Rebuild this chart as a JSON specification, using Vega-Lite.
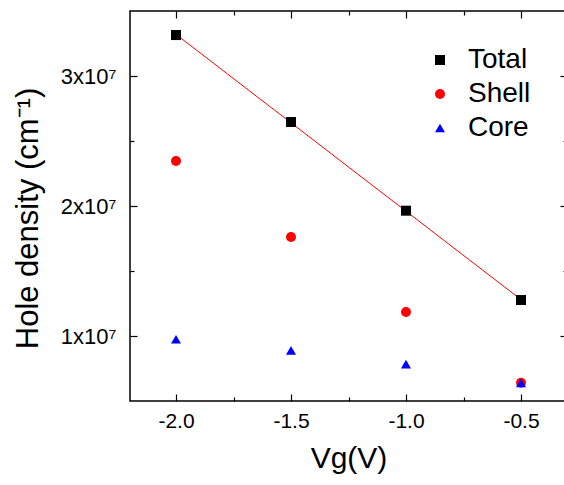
{
  "$schema": "https://vega.github.io/schema/vega-lite/v6.json",
  "width": 437,
  "height": 390,
  "autosize": "none",
  "padding": {"left": 130, "top": 11, "right": 0, "bottom": 84},
  "background": "white",
  "config": {
    "font": "Liberation Sans",
    "view": {"stroke": "black", "strokeWidth": 1.5},
    "axis": {"grid": false, "domain": false, "tickColor": "black", "tickWidth": 1.2, "labelColor": "black", "titleColor": "black"}
  },
  "datasets": {
    "pts": [
      {"Vg": -2.0, "density": 33150000, "series": "Total"},
      {"Vg": -1.5, "density": 26460000, "series": "Total"},
      {"Vg": -1.0, "density": 19640000, "series": "Total"},
      {"Vg": -0.5, "density": 12770000, "series": "Total"},
      {"Vg": -2.0, "density": 23460000, "series": "Shell"},
      {"Vg": -1.5, "density": 17620000, "series": "Shell"},
      {"Vg": -1.0, "density": 11850000, "series": "Shell"},
      {"Vg": -0.5, "density": 6400000, "series": "Shell"},
      {"Vg": -2.0, "density": 9750000, "series": "Core"},
      {"Vg": -1.5, "density": 8890000, "series": "Core"},
      {"Vg": -1.0, "density": 7840000, "series": "Core"},
      {"Vg": -0.5, "density": 6400000, "series": "Core"}
    ],
    "fit": [
      {"Vg": -2.0, "density": 33200000},
      {"Vg": -0.5, "density": 12800000}
    ]
  },
  "layer": [
    {
      "data": {"name": "fit"},
      "mark": {"type": "line", "color": "red", "strokeWidth": 1},
      "encoding": {
        "x": {
          "field": "Vg", "type": "quantitative",
          "scale": {"domain": [-2.2, -0.3], "nice": false, "zero": false},
          "axis": {
            "orient": "top", "title": null, "labels": false,
            "values": [-2.0, -1.75, -1.5, -1.25, -1.0, -0.75, -0.5],
            "tickSize": {"condition": {"test": "indexof([-2,-1.5,-1,-0.5], datum.value) >= 0", "value": -7}, "value": -4}
          }
        },
        "y": {
          "field": "density", "type": "quantitative",
          "scale": {"domain": [5000000, 35000000], "nice": false, "zero": false},
          "axis": {
            "orient": "right", "title": null, "labels": false,
            "values": [10000000, 15000000, 20000000, 25000000, 30000000],
            "tickSize": {"condition": {"test": "datum.value % 10000000 == 0", "value": -7}, "value": -4}
          }
        }
      }
    },
    {
      "data": {"name": "pts"},
      "mark": {"type": "point", "filled": true, "opacity": 1},
      "encoding": {
        "x": {
          "field": "Vg", "type": "quantitative",
          "axis": {
            "orient": "bottom", "title": "Vg(V)",
            "titleFontSize": 30, "titleFontWeight": "normal", "titlePadding": 12,
            "labelFontSize": 21, "labelPadding": 16,
            "values": [-2.0, -1.75, -1.5, -1.25, -1.0, -0.75, -0.5],
            "labelExpr": "indexof([-2,-1.5,-1,-0.5], datum.value) >= 0 ? replace(format(datum.value, '.1f'), '\u2212', '-') : ''",
            "tickSize": {"condition": {"test": "indexof([-2,-1.5,-1,-0.5], datum.value) >= 0", "value": -7}, "value": -4}
          }
        },
        "y": {
          "field": "density", "type": "quantitative",
          "axis": {
            "orient": "left", "title": "Hole density (cm\u207b\u00b9)",
            "titleFontSize": 31, "titleFontWeight": "normal", "titlePadding": 16, "titleY": 207,
            "labelFontSize": 22, "labelPadding": 21,
            "values": [10000000, 15000000, 20000000, 25000000, 30000000],
            "labelExpr": "datum.value % 10000000 == 0 ? (datum.value / 10000000) + 'x10\u2077' : ''",
            "tickSize": {"condition": {"test": "datum.value % 10000000 == 0", "value": -7}, "value": -4}
          }
        },
        "shape": {
          "field": "series", "type": "nominal",
          "scale": {"domain": ["Total", "Shell", "Core"], "range": ["square", "circle", "triangle-up"]},
          "legend": null
        },
        "size": {
          "field": "series", "type": "nominal",
          "scale": {"domain": ["Total", "Shell", "Core"], "range": [100, 100, 210]},
          "legend": null
        },
        "color": {
          "field": "series", "type": "nominal",
          "scale": {"domain": ["Total", "Shell", "Core"], "range": ["black", "red", "blue"]},
          "legend": {
            "orient": "none", "legendX": 296, "legendY": 35, "title": null,
            "labelFontSize": 28, "labelColor": "black", "symbolSize": 100,
            "rowPadding": 6, "labelOffset": 14, "symbolStrokeWidth": 0
          }
        }
      }
    }
  ],
  "resolve": {"axis": {"x": "independent", "y": "independent"}}
}
